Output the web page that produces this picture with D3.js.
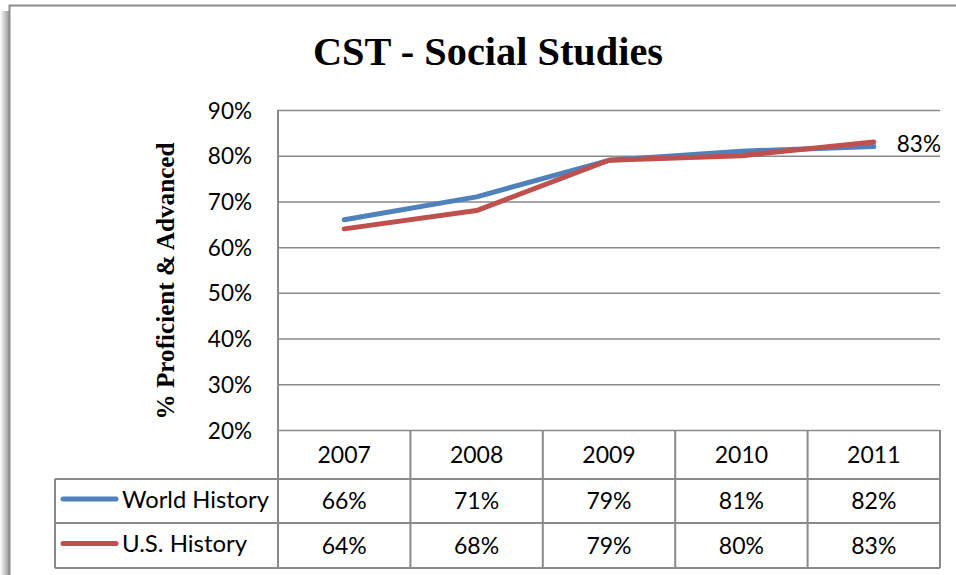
<!DOCTYPE html>
<html>
<head>
<meta charset="utf-8">
<script src="https://cdn.jsdelivr.net/npm/d3@7"></script>
<style>
  html, body { margin: 0; padding: 0; background: #fff; }
  svg { display: block; }
</style>
</head>
<body>
<svg id="chart" width="956" height="575"></svg>
<script>
// Chart data
const years = ["2007", "2008", "2009", "2010", "2011"];
const seriesNames = ["World History", "U.S. History"];
const worldHistory = [0.66, 0.71, 0.79, 0.81, 0.82];
const usHistory = [0.64, 0.68, 0.79, 0.80, 0.83];
const seriesColors = ["#4F81BD", "#C0504D"];
const yTicks = [0.2, 0.3, 0.4, 0.5, 0.6, 0.7, 0.8, 0.9];
const titleText = "CST - Social Studies";
const yAxisTitle = "% Proficient & Advanced";

const series = [
  { name: seriesNames[0], values: worldHistory, color: seriesColors[0] },
  { name: seriesNames[1], values: usHistory, color: seriesColors[1] }
];

const svg = d3.select("#chart");
const sansFont = "Lato, 'Open Sans', sans-serif";
const serifFont = "'Liberation Serif', 'DejaVu Serif', serif";
const lineGray = "#8a8a8a";
const numSize = 23;

// Plot geometry
const plot = { left: 278, right: 940, top: 110, bottom: 430 };
const table = { left: 55, headerBottom: 479, row1Bottom: 523, bottom: 568 };

const x = d3.scaleBand().domain(years).range([plot.left, plot.right]).padding(0);
const y = d3.scaleLinear().domain([0.2, 0.9]).range([plot.bottom, plot.top]);
const pct = d3.format(".0%");

// Outer frame with soft shadow on the left
const defs = svg.append("defs");
const grad = defs.append("linearGradient").attr("id", "shadow").attr("x1", "0").attr("x2", "1");
grad.append("stop").attr("offset", "0").attr("stop-color", "#fff");
grad.append("stop").attr("offset", "1").attr("stop-color", "#9a9a9a");
svg.append("rect").attr("x", 0).attr("y", 11).attr("width", 9).attr("height", 575)
  .attr("fill", "url(#shadow)");
svg.append("path")
  .attr("d", "M9.5,575 V5.5 H956")
  .attr("fill", "none").attr("stroke", "#8c8c8c").attr("stroke-width", 2);

// Title
const title = svg.append("text")
  .attr("x", 488).attr("y", 65)
  .attr("text-anchor", "middle")
  .attr("font-family", serifFont).attr("font-weight", "bold")
  .attr("font-size", 34).attr("fill", "#000")
  .text(titleText);
{
  const w = title.node().getComputedTextLength();
  title.attr("font-size", 34 * 350 / w);
}

// Gridlines from the y axis
svg.append("g")
  .attr("transform", `translate(${plot.left},0)`)
  .call(d3.axisLeft(y).tickValues(yTicks).tickSize(-(plot.right - plot.left)).tickFormat(""))
  .call(g => g.select(".domain").remove())
  .call(g => g.selectAll(".tick line").attr("stroke", lineGray).attr("stroke-width", 1.5));

// Y tick labels
svg.append("g")
  .attr("transform", `translate(${plot.left - 26},0)`)
  .call(d3.axisLeft(y).tickValues(yTicks).tickSize(0).tickPadding(0).tickFormat(pct))
  .call(g => g.select(".domain").remove())
  .call(g => g.selectAll(".tick text")
    .attr("font-family", sansFont).attr("font-size", 22.5).attr("fill", "#000")
    .attr("dy", "0.36em"));

// Y axis title
const yTitle = svg.append("text")
  .attr("transform", `translate(174,281) rotate(-90)`)
  .attr("text-anchor", "middle")
  .attr("font-family", serifFont).attr("font-weight", "bold")
  .attr("font-size", 20).attr("fill", "#000")
  .text(yAxisTitle);
{
  const w = yTitle.node().getComputedTextLength();
  yTitle.attr("font-size", 20 * 277 / w);
}

// Data table lines
const tbl = svg.append("g").attr("stroke", lineGray).attr("stroke-width", 2).attr("fill", "none");
// plot left edge down through the table
tbl.append("line").attr("x1", plot.left).attr("x2", plot.left).attr("y1", plot.top).attr("y2", table.bottom);
// column dividers
years.forEach((yr, i) => {
  const xr = x(yr) + x.bandwidth();
  tbl.append("line").attr("x1", xr).attr("x2", xr).attr("y1", plot.bottom).attr("y2", table.bottom);
});
// row lines
[table.headerBottom, table.row1Bottom, table.bottom].forEach(yy => {
  tbl.append("line").attr("x1", table.left).attr("x2", plot.right).attr("y1", yy).attr("y2", yy);
});
tbl.append("line").attr("x1", table.left).attr("x2", table.left)
  .attr("y1", table.headerBottom).attr("y2", table.bottom);

// Header row: years
svg.append("g").selectAll("text").data(years).join("text")
  .attr("x", d => x(d) + x.bandwidth() / 2)
  .attr("y", (plot.bottom + table.headerBottom) / 2)
  .attr("dy", "0.36em")
  .attr("text-anchor", "middle")
  .attr("font-family", sansFont).attr("font-size", numSize).attr("fill", "#000")
  .text(d => d);

// Value rows with legend keys
const rowCenters = [(table.headerBottom + table.row1Bottom) / 2, (table.row1Bottom + table.bottom) / 2];
series.forEach((s, si) => {
  const cy = rowCenters[si];
  svg.append("line")
    .attr("x1", 63).attr("x2", 116).attr("y1", cy - 2).attr("y2", cy - 2)
    .attr("stroke", s.color).attr("stroke-width", 5).attr("stroke-linecap", "round");
  const lbl = svg.append("text")
    .attr("x", 122).attr("y", cy - 2).attr("dy", "0.36em")
    .attr("font-family", sansFont).attr("font-size", 24).attr("fill", "#000")
    .text(s.name);
  if (si === 0) {
    const w = lbl.node().getComputedTextLength();
    lbl.attr("font-size", Math.min(25, 24 * 147 / w));
  }
  svg.append("g").selectAll("text").data(s.values).join("text")
    .attr("x", (d, i) => x(years[i]) + x.bandwidth() / 2)
    .attr("y", cy).attr("dy", "0.36em")
    .attr("text-anchor", "middle")
    .attr("font-family", sansFont).attr("font-size", numSize).attr("fill", "#000")
    .text(d => pct(d));
});

// Series lines
const line = d3.line()
  .x((d, i) => x(years[i]) + x.bandwidth() / 2)
  .y(d => y(d));
series.forEach(s => {
  svg.append("path")
    .datum(s.values)
    .attr("d", line)
    .attr("fill", "none")
    .attr("stroke", s.color)
    .attr("stroke-width", 5)
    .attr("stroke-linecap", "round")
    .attr("stroke-linejoin", "round");
});

// Data label on the last U.S. History point
const lastIdx = usHistory.length - 1;
svg.append("text")
  .attr("x", x(years[lastIdx]) + x.bandwidth() / 2 + 23)
  .attr("y", y(usHistory[lastIdx]) + 2)
  .attr("dy", "0.36em")
  .attr("font-family", sansFont).attr("font-size", 22.5).attr("fill", "#000")
  .text(pct(usHistory[lastIdx]));
</script>
</body>
</html>
